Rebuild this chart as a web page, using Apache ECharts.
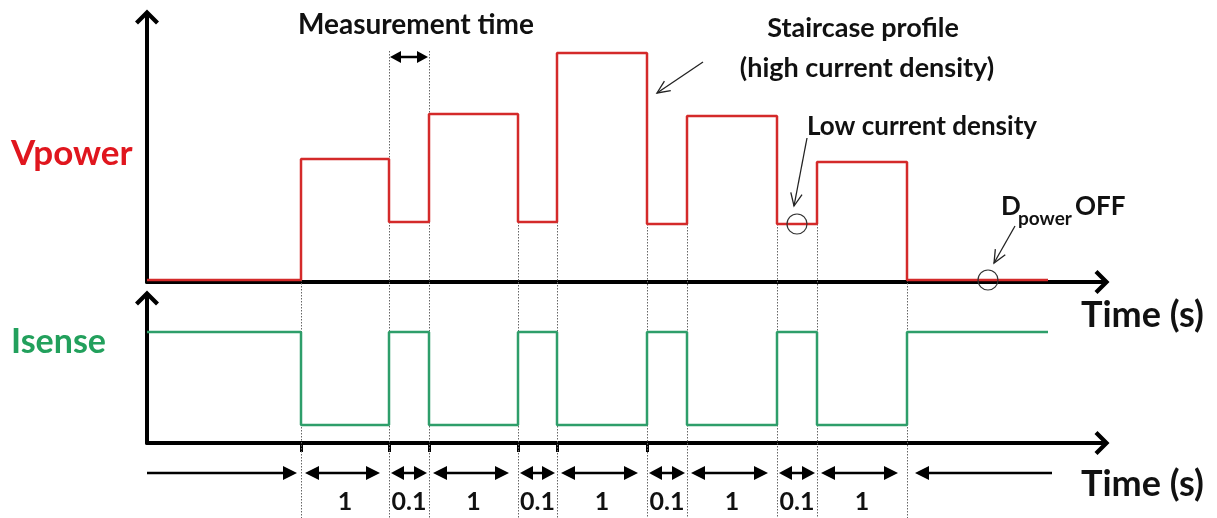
<!DOCTYPE html>
<html><head><meta charset="utf-8">
<script src="https://cdn.jsdelivr.net/npm/echarts@6/dist/echarts.min.js"></script>
<style>html,body{margin:0;padding:0;background:#fff}#c{width:1217px;height:518px}</style>
</head><body><div id="c"></div>
<script>
// Schematic time positions of the level changes (axis units)
const transitionsX = [154, 242, 282, 371, 410, 500, 540, 630, 670, 760];
const signalEndX = 901;
// Level held in each interval (before first change, between changes, after last change)
const vpowerLevels = [2, 123, 60, 168, 60, 229, 58, 166, 58, 120, 2];
const isenseLevels = [111, 18, 111, 18, 111, 18, 111, 18, 111, 18, 111];
// Duration labels for each interval between changes (seconds)
const durationLabels = ['1', '0.1', '1', '0.1', '1', '0.1', '1', '0.1', '1'];
// Tick marks on the lower time axis
const axisTickX = [154, 242, 282, 371, 410, 500];
const measurementWindow = [1, 2];
const xMax = 955, vMax = 265, iMax = 145;
const lowDensityX = 650, dpowerOffX = 841;

const FONT = 'Lato, "Open Sans", sans-serif';
const RED = '#d42a2a', GREEN = '#2e9e6a';

function stepData(levels) {
  const xs = [0].concat(transitionsX);
  const d = xs.map((x, i) => [x, levels[i]]);
  d.push([signalEndX, levels[levels.length - 1]]);
  return d;
}

const chev = 'path://M12,0 L24,12 L21,15 L12,6 L3,15 L0,12 Z';
const axisLineCommon = { show: true, onZero: false, lineStyle: { color: '#000', width: 4 }, symbol: ['none', chev], symbolSize: [24, 16] };
const hiddenBits = { axisLabel: { show: false }, splitLine: { show: false } };

const option = {
  animation: false,
  grid: [
    { left: 147, top: 17, width: xMax, height: vMax },
    { left: 147, top: 298, width: xMax, height: iMax }
  ],
  xAxis: [
    Object.assign({ gridIndex: 0, type: 'value', min: 0, max: xMax, axisLine: axisLineCommon, axisTick: { show: false } }, hiddenBits),
    Object.assign({ gridIndex: 1, type: 'value', min: 0, max: xMax, axisLine: axisLineCommon,
      axisTick: { show: true, customValues: axisTickX, length: 9, lineStyle: { width: 3, color: '#000' } } }, hiddenBits)
  ],
  yAxis: [
    Object.assign({ gridIndex: 0, type: 'value', min: 0, max: vMax, axisLine: axisLineCommon, axisTick: { show: false } }, hiddenBits),
    Object.assign({ gridIndex: 1, type: 'value', min: 0, max: iMax, axisLine: axisLineCommon, axisTick: { show: false } }, hiddenBits)
  ],
  series: [
    { type: 'line', name: 'Vpower', xAxisIndex: 0, yAxisIndex: 0, step: 'end', data: stepData(vpowerLevels), symbol: 'none', lineStyle: { color: RED, width: 2.5 }, z: 3 },
    { type: 'line', name: 'Isense', xAxisIndex: 1, yAxisIndex: 1, step: 'end', data: stepData(isenseLevels), symbol: 'none', lineStyle: { color: GREEN, width: 2.5 }, z: 3 }
  ]
};

const chart = echarts.init(document.getElementById('c'));
chart.setOption(option);

const X = v => chart.convertToPixel({ xAxisIndex: 0 }, v);
const YV = v => chart.convertToPixel({ yAxisIndex: 0 }, v);
const YI = v => chart.convertToPixel({ yAxisIndex: 1 }, v);

function txt(text, x, y, size, color, align, extra) {
  return Object.assign({ type: 'text', x: x, y: y, z: 10,
    style: { text: text, fill: color || '#111', font: 'bold ' + size + 'px ' + FONT, textAlign: align || 'left', textVerticalAlign: 'middle' } }, extra || {});
}
function dblArrow(x1, x2, y, hl, hw, lw, left, right) {
  const els = [];
  els.push({ type: 'line', z: 10, shape: { x1: left ? x1 + hl - 1 : x1, y1: y, x2: right ? x2 - hl + 1 : x2, y2: y }, style: { stroke: '#000', lineWidth: lw } });
  if (left) els.push({ type: 'polygon', z: 10, shape: { points: [[x1, y], [x1 + hl, y - hw], [x1 + hl, y + hw]] }, style: { fill: '#000' } });
  if (right) els.push({ type: 'polygon', z: 10, shape: { points: [[x2, y], [x2 - hl, y - hw], [x2 - hl, y + hw]] }, style: { fill: '#000' } });
  return els;
}
function openArrow(x1, y1, x2, y2) {
  const len = 14, ang = 0.42;
  const a = Math.atan2(y2 - y1, x2 - x1);
  const p1 = [x2 - len * Math.cos(a - ang), y2 - len * Math.sin(a - ang)];
  const p2 = [x2 - len * Math.cos(a + ang), y2 - len * Math.sin(a + ang)];
  return [
    { type: 'line', z: 10, shape: { x1: x1, y1: y1, x2: x2, y2: y2 }, style: { stroke: '#222', lineWidth: 1.3 } },
    { type: 'polyline', z: 10, shape: { points: [p1, [x2, y2], p2] }, style: { stroke: '#222', lineWidth: 1.3, fill: null } }
  ];
}

const els = [];
const H = 518;
const measY = 57;
// dotted guide lines
transitionsX.forEach((tx, i) => {
  const px = Math.round(X(tx)) + 0.5;
  const top = measurementWindow.indexOf(i) >= 0 ? measY - 6 : YV(Math.min(vpowerLevels[i], vpowerLevels[i + 1]));
  els.push({ type: 'line', z: 1, shape: { x1: px, y1: top, x2: px, y2: H }, style: { stroke: '#666', lineWidth: 1, lineDash: [1.5, 1.5] } });
});

// duration arrows and labels
const arrowY = 473, labY = 502;
const x0 = X(0);
els.push(...dblArrow(x0, X(transitionsX[0]) - 4, arrowY, 14, 7, 2.5, false, true));
durationLabels.forEach((lab, i) => {
  const a = X(transitionsX[i]), b = X(transitionsX[i + 1]);
  const wide = (b - a) > 60;
  const pl = wide ? 4 : 2, pr = wide ? 9 : 2;
  els.push(...dblArrow(a + pl, b - pr, arrowY, wide ? 14 : 13, 7, 2.5, true, true));
  els.push(txt(lab, (a + b) / 2, labY, 25, '#111', 'center'));
});
els.push(...dblArrow(X(transitionsX[transitionsX.length - 1]) + 8, X(signalEndX) + 4, arrowY, 14, 7, 2.5, true, false));

// measurement time arrow
const mA = X(transitionsX[measurementWindow[0]]), mB = X(transitionsX[measurementWindow[1]]);
els.push(...dblArrow(mA + 1, mB - 1, measY, 11, 6, 2.5, true, true));
els.push(txt('Measurement time', 416, 25, 28, '#111', 'center'));

// axis titles
els.push(txt('Vpower', 11, 154, 35, '#e0161e', 'left'));
els.push(txt('Isense', 11, 342, 34, '#22a05c', 'left'));
els.push(txt('Time (s)', 1081, 315, 36, '#111', 'left'));
els.push(txt('Time (s)', 1081, 484, 36, '#111', 'left'));

// annotations
els.push(txt('Staircase profile', 863, 28, 27, '#111', 'center'));
els.push(txt('(high current density)', 867, 68, 27, '#111', 'center'));
els.push(...openArrow(703, 62, X(transitionsX[5]) + 10, 93));

els.push(txt('Low current density', 807, 127, 26, '#111', 'left'));
const lcx = X(lowDensityX), lcy = YV(vpowerLevels[8]);
els.push({ type: 'circle', z: 10, shape: { cx: lcx, cy: lcy, r: 10 }, style: { stroke: '#333', fill: null, lineWidth: 1.2 } });
els.push(...openArrow(807, 138, lcx - 3, lcy - 18));

els.push(txt('D', 1001, 207, 26, '#111', 'left'));
els.push(txt('power', 1018, 219, 19, '#111', 'left'));
els.push(txt('OFF', 1075, 207, 26, '#111', 'left'));
const dcx = X(dpowerOffX), dcy = YV(vpowerLevels[10]);
els.push({ type: 'circle', z: 10, shape: { cx: dcx, cy: dcy, r: 10 }, style: { stroke: '#333', fill: null, lineWidth: 1.2 } });
els.push(...openArrow(1015, 226, dcx + 6, dcy - 17));

chart.setOption({ graphic: { elements: els } });
</script>
</body></html>
